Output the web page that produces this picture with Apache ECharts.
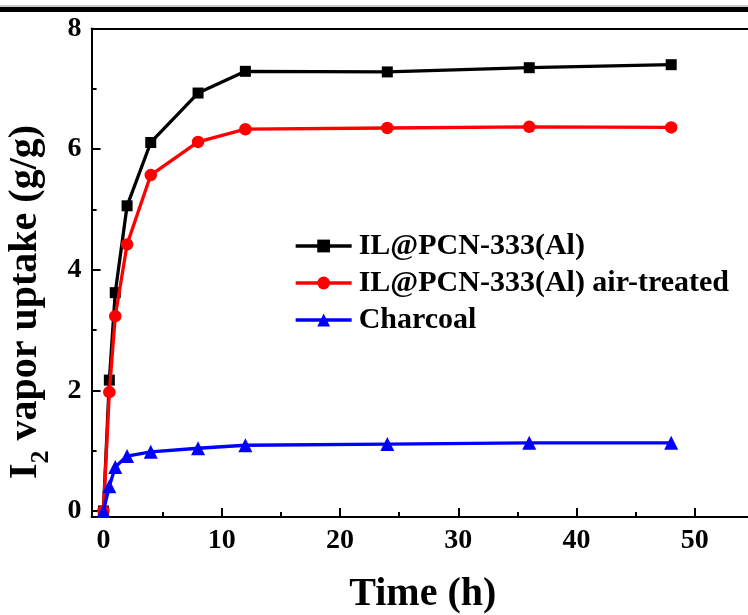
<!DOCTYPE html>
<html><head><meta charset="utf-8">
<script src="https://cdn.jsdelivr.net/npm/echarts@6/dist/echarts.min.js"></script>
<style>html,body{margin:0;padding:0;background:#fff}#c{width:748px;height:615px}</style>
</head><body><div id="c"></div>
<script>
const timeH = [0, 0.5, 1, 2, 4, 8, 12, 24, 36, 48];
const ilPcn = [0, 2.17, 3.62, 5.06, 6.11, 6.93, 7.29, 7.28, 7.35, 7.40];
const ilPcnAir = [0, 1.97, 3.23, 4.42, 5.57, 6.12, 6.33, 6.35, 6.37, 6.36];
const charcoal = [0, 0.41, 0.73, 0.91, 0.98, 1.04, 1.09, 1.11, 1.13, 1.13];
const seriesNames = ['IL@PCN-333(Al)', 'IL@PCN-333(Al) air-treated', 'Charcoal'];
const xMajor = [0, 10, 20, 30, 40, 50];
const xMinor = [5, 15, 25, 35, 45];
const yMajor = [0, 2, 4, 6, 8];
const yMinor = [1, 3, 5, 7];
const xTitle = 'Time (h)';

const FONT = '"Liberation Serif", "Times New Roman", serif';
const chart = echarts.init(document.getElementById('c'), null, {renderer: 'canvas'});
const pairs = ys => timeH.map((t, i) => [t, ys[i]]);
const lbl = {color: '#000', fontFamily: FONT, fontWeight: 'bold', fontSize: 28};

function xAx(extra) {
  return Object.assign({
    type: 'value', min: -1, max: 55, gridIndex: 0, position: 'bottom',
    splitLine: {show: false},
    axisLine: {show: false, onZero: false, lineStyle: {color: '#000', width: 2}},
    axisTick: {show: false},
    axisLabel: {show: false}
  }, extra);
}
function yAx(extra) {
  return Object.assign({
    type: 'value', min: -0.1, max: 8, gridIndex: 0, position: 'left',
    splitLine: {show: false},
    axisLine: {show: false, onZero: false, lineStyle: {color: '#000', width: 2}},
    axisTick: {show: false},
    axisLabel: {show: false}
  }, extra);
}

const option = {
  backgroundColor: '#fff',
  animation: false,
  grid: {left: 91.6, top: 28.5, width: 662.4, height: 488.5, containLabel: false, outerBoundsMode: 'none'},
  xAxis: [
    xAx({
      axisLine: {show: true, onZero: false, lineStyle: {color: '#000', width: 2}},
      axisTick: {show: true, inside: true, length: 9, lineStyle: {color: '#000', width: 2}, customValues: xMajor},
      axisLabel: Object.assign({show: true, margin: 10, customValues: xMajor}, lbl),
      name: xTitle, nameLocation: 'middle', nameGap: 58,
      nameTextStyle: {color: '#000', fontFamily: FONT, fontWeight: 'bold', fontSize: 40}
    }),
    xAx({
      axisTick: {show: true, inside: true, length: 5, lineStyle: {color: '#000', width: 2}, customValues: xMinor}
    }),
    xAx({position: 'top', axisLine: {show: true, onZero: false, lineStyle: {color: '#000', width: 2}}})
  ],
  yAxis: [
    yAx({
      axisLine: {show: true, onZero: false, lineStyle: {color: '#000', width: 2}},
      axisTick: {show: true, inside: true, length: 9, lineStyle: {color: '#000', width: 2}, customValues: yMajor},
      axisLabel: Object.assign({show: true, margin: 10, customValues: yMajor}, lbl)
    }),
    yAx({
      axisTick: {show: true, inside: true, length: 5, lineStyle: {color: '#000', width: 2}, customValues: yMinor}
    })
  ],
  legend: {
    orient: 'vertical', left: 294, top: 231, padding: 0,
    itemWidth: 56, itemHeight: 16, itemGap: 7,
    data: seriesNames,
    lineStyle: {width: 3.3},
    textStyle: {color: '#000', fontFamily: FONT, fontWeight: 'bold', fontSize: 30, lineHeight: 30, padding: [0, 0, 0, 2]}
  },
  series: [
    {name: seriesNames[0], type: 'line', data: pairs(ilPcn), symbol: 'rect', symbolSize: 11,
     itemStyle: {color: '#000'}, lineStyle: {color: '#000', width: 3.3}, z: 3},
    {name: seriesNames[1], type: 'line', data: pairs(ilPcnAir), symbol: 'circle', symbolSize: 12.5,
     itemStyle: {color: '#ff0000'}, lineStyle: {color: '#ff0000', width: 3.3}, z: 4},
    {name: seriesNames[2], type: 'line', data: pairs(charcoal), symbol: 'triangle', symbolSize: 14,
     itemStyle: {color: '#0000ff'}, lineStyle: {color: '#0000ff', width: 3.3}, z: 5}
  ],
  graphic: [
    {type: 'rect', left: 0, top: 5, shape: {width: 748, height: 2}, style: {fill: '#c8c8c8'}},
    {type: 'rect', left: 0, top: 7, shape: {width: 748, height: 5}, style: {fill: '#000'}},
    {type: 'text', x: 28, y: 302, rotation: Math.PI / 2,
     style: {
       text: '{a|I}{s|2}{a| vapor uptake (g/g)}',
       align: 'center', verticalAlign: 'middle',
       rich: {
         a: {fontFamily: FONT, fontWeight: 'bold', fontSize: 40, lineHeight: 44, verticalAlign: 'top', fill: '#000'},
         s: {fontFamily: FONT, fontWeight: 'bold', fontSize: 26, lineHeight: 26, padding: [22, 0, 0, 0], verticalAlign: 'top', fill: '#000'}
       }
     }}
  ]
};
chart.setOption(option);
</script>
</body></html>
